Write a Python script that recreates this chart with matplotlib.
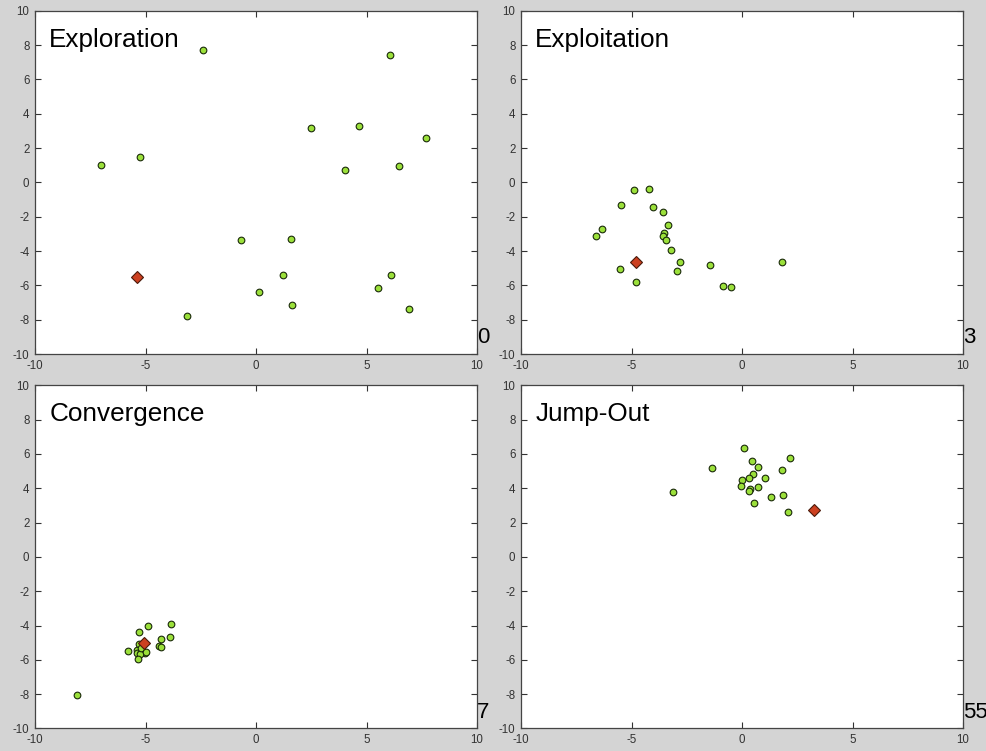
import matplotlib
matplotlib.use("Agg")
import matplotlib.pyplot as plt

plt.rcParams['font.family'] = ['Liberation Sans', 'DejaVu Sans']
plt.rcParams['axes.unicode_minus'] = False

# Datos de cada fase
explore_x = [-2.4, 6.08, -7.03, -5.26, 2.49, 4.67, 7.71, 4.04, 6.49, -0.68, 1.59,
             1.22, 0.14, 1.63, -3.13, 5.53, 6.12, 6.94]
explore_y = [7.7, 7.4, 1.0, 1.46, 3.15, 3.27, 2.57, 0.70, 0.93, -3.38, -3.27,
             -5.42, -6.36, -7.17, -7.81, -6.18, -5.42, -7.35]
explore_best = (-5.4, -5.54)

exploit_x = [-4.89, -4.23, -5.49, -4.05, -3.58, -3.35, -6.32, -6.61, -3.53, -3.59,
             -3.42, -3.21, -2.80, -2.94, -5.53, -4.79, -1.45, -0.86, -0.50, 1.82]
exploit_y = [-0.43, -0.37, -1.30, -1.42, -1.71, -2.47, -2.72, -3.13, -2.92, -3.11,
             -3.36, -3.93, -4.63, -5.17, -5.05, -5.83, -4.82, -6.06, -6.12, -4.66]
exploit_best = (-4.79, -4.65)

converge_x = [-4.87, -3.85, -5.29, -4.32, -3.90, -4.40, -4.28, -5.80, -5.40, -5.40,
              -5.22, -5.03, -5.26, -5.34, -5.31, -8.10, -5.20, -5.00]
converge_y = [-4.02, -3.92, -4.39, -4.80, -4.66, -5.20, -5.28, -5.46, -5.44, -5.63,
              -5.54, -5.63, -5.67, -5.98, -5.05, -8.03, -5.30, -5.55]
converge_best = (-5.08, -5.01)

jump_x = [0.09, 2.18, 0.45, 0.74, -1.35, 1.80, 0.50, 0.30, 1.06, 0.0, -0.05, 0.36,
          0.32, 0.73, -3.12, 1.85, 1.29, 0.55, 2.09]
jump_y = [6.36, 5.77, 5.60, 5.24, 5.19, 5.07, 4.80, 4.58, 4.60, 4.48, 4.13, 3.98,
          3.82, 4.08, 3.78, 3.61, 3.49, 3.14, 2.61]
jump_best = (3.24, 2.73)

titles = ['Exploration', 'Exploitation', 'Convergence', 'Jump-Out']
corner_labels = ['0', '3', '7', '55']
xticks = [-10, -5, 0, 5, 10]
yticks = list(range(-10, 11, 2))

panels = [
    (explore_x, explore_y, explore_best),
    (exploit_x, exploit_y, exploit_best),
    (converge_x, converge_y, converge_best),
    (jump_x, jump_y, jump_best),
]

fig = plt.figure(figsize=(9.87, 7.51), dpi=100)
fig.patch.set_facecolor('#d4d4d4')

# posiciones de los ejes (fraccion de figura)
lefts = [0.0355, 0.5279, 0.0355, 0.5279]
bottoms = [0.5286, 0.5286, 0.030, 0.030]
w, h = 0.4478, 0.457

for i, (px, py, best) in enumerate(panels):
    ax = fig.add_axes([lefts[i], bottoms[i], w, h])
    ax.set_facecolor('white')
    ax.plot(px, py, 'o', markersize=4.8, markerfacecolor='#9be03a',
            markeredgecolor='#1a2a0a', markeredgewidth=0.8, linestyle='none')
    ax.plot([best[0]], [best[1]], 'D', markersize=6.3, markerfacecolor='#cc4020',
            markeredgecolor='#4a1a0a', markeredgewidth=0.8)
    ax.set_xlim(-10, 10)
    ax.set_ylim(-10, 10)
    ax.set_xticks(xticks)
    ax.set_yticks(yticks)
    ax.tick_params(direction='in', length=4, width=0.8, color='#333333',
                   labelsize=8.3, labelcolor='#333333', top=True, right=True,
                   pad=4)
    for sp in ax.spines.values():
        sp.set_color('#444444')
        sp.set_linewidth(0.9)
    ax.text(0.032, 0.915, titles[i], transform=ax.transAxes, fontsize=18.8,
            ha='left', va='center', color='black')
    ax.text(10.0, -9.05, corner_labels[i], fontsize=16, ha='left', va='center',
            clip_on=False, color='black')

fig.savefig('out.png', dpi=100, facecolor=fig.get_facecolor())
